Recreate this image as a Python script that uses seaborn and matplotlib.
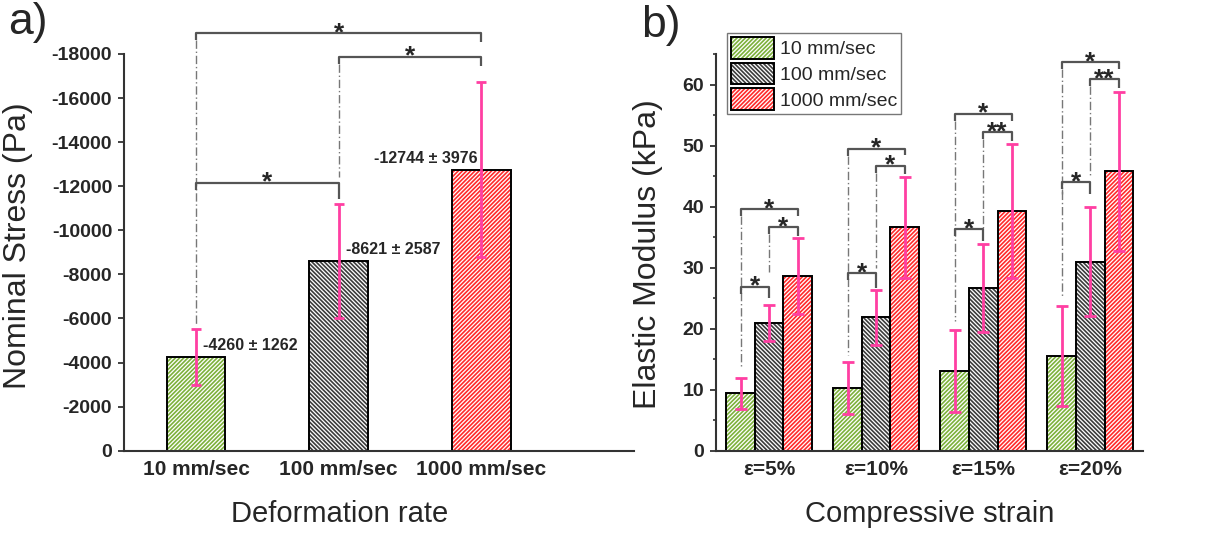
import matplotlib
matplotlib.use('Agg')
import matplotlib.pyplot as plt
from matplotlib.patches import Rectangle, Patch
from matplotlib.legend_handler import HandlerTuple
from matplotlib.ticker import MultipleLocator
import seaborn as sns
import pandas as pd

# ---- data ----
rates = ['10 mm/sec', '100 mm/sec', '1000 mm/sec']
stress = [-4260, -8621, -12744]
stress_sd = [1262, 2587, 3976]

strains = ['ε=5%', 'ε=10%', 'ε=15%', 'ε=20%']
mod_10 = [9.4, 10.3, 13.1, 15.5]
mod_100 = [20.9, 21.9, 26.7, 31.0]
mod_1000 = [28.6, 36.6, 39.3, 45.8]
sd_10 = [2.5, 4.3, 6.7, 8.2]
sd_100 = [3.0, 4.5, 7.2, 9.0]
sd_1000 = [6.2, 8.3, 11.0, 13.0]

# significance brackets: (bar i, bar j, height, left line end, right tick end, label)
brackets_a = [
    (0, 2, -18940, -5650, -18560, '*'),
    (1, 2, -17880, -12400, -17450, '*'),
    (0, 1, -12160, -11850, -11400, '*'),
]
# panel b bars indexed as (rate, strain)
brackets_b = [
    ((0, 0), (2, 0), 39.6, 13.8, 38.5, '*'),
    ((1, 0), (2, 0), 36.6, 29.2, 35.2, '*'),
    ((0, 0), (1, 0), 26.9, 25.7, 25.0, '*'),
    ((0, 1), (2, 1), 49.5, 15.7, 48.4, '*'),
    ((1, 1), (2, 1), 46.7, 30.0, 45.3, '*'),
    ((0, 1), (1, 1), 29.1, 27.9, 26.7, '*'),
    ((0, 2), (2, 2), 55.2, 21.2, 54.1, '*'),
    ((1, 2), (2, 2), 52.2, 36.4, 50.7, '**'),
    ((0, 2), (1, 2), 36.3, 35.1, 34.3, '*'),
    ((0, 3), (2, 3), 63.7, 25.0, 62.6, '*'),
    ((1, 3), (2, 3), 60.9, 45.1, 59.4, '**'),
    ((0, 3), (1, 3), 44.0, 42.0, 42.0, '*'),
]

colors = ['#7db13c', '#3c3c3c', '#ff2b2b']
hatches = ['////////', '\\\\\\\\\\\\\\\\', '////////']
err_color = '#ff3fa2'

sns.set_style('ticks')
plt.rcParams['font.family'] = ['Liberation Sans', 'DejaVu Sans']
plt.rcParams['axes.unicode_minus'] = False
plt.rcParams['hatch.linewidth'] = 1.2


def hatch_bars(ax):
    rgba = [matplotlib.colors.to_rgba(c) for c in colors]
    for p in list(ax.patches):
        fc = tuple(p.get_facecolor())
        p.set_facecolor('white')
        p.set_edgecolor(fc)
        p.set_linewidth(0)
        p.set_hatch(hatches[rgba.index(fc)])
        ax.add_patch(Rectangle(p.get_xy(), p.get_width(), p.get_height(),
                               fill=False, edgecolor='black', linewidth=1.4, zorder=p.get_zorder() + 0.1))


def draw_bracket(ax, x1, x2, h, left_end, right_end, label, tick):
    kw = dict(color='#555555', lw=1.6, clip_on=False, solid_capstyle='butt', zorder=5)
    ax.plot([x1, x1, x2, x2], [h - tick, h, h, right_end], **kw)
    ax.plot([x1, x1], [h - tick, left_end], color='#777777', lw=1.0, clip_on=False,
            dashes=(6, 2, 1, 2), zorder=4)
    ax.annotate(label, xy=((x1 + x2) / 2, h), xytext=(0, -5), textcoords='offset points',
                ha='center', va='baseline', fontsize=19, fontweight='bold', annotation_clip=False)


def style_axis(ax):
    for s in ['top', 'right']:
        ax.spines[s].set_visible(False)
    for s in ['left', 'bottom']:
        ax.spines[s].set_linewidth(1.5)
        ax.spines[s].set_color('#333333')
    ax.tick_params(axis='y', which='major', direction='out', length=4.5, width=1.3,
                   labelsize=14, pad=4, color='#333333')
    ax.tick_params(axis='x', length=0, labelsize=15, pad=7)
    for t in ax.get_xticklabels() + ax.get_yticklabels():
        t.set_fontweight('bold')


fig = plt.figure(figsize=(12.2, 5.37), dpi=100)
bottom = 1 - 450.7 / 537
height = (450.7 - 54) / 537
ax_a = fig.add_axes([124 / 1220, bottom, (634 - 124) / 1220, height])
ax_b = fig.add_axes([715.7 / 1220, bottom, (1142.7 - 715.7) / 1220, height])

# ---- panel a ----
df_a = pd.DataFrame({'rate': rates, 'stress': stress})
sns.barplot(data=df_a, x='rate', y='stress', hue='rate', palette=colors, width=0.41,
            saturation=1, errorbar=None, legend=False, ax=ax_a)
hatch_bars(ax_a)
xa = [p.get_x() + p.get_width() / 2 for p in ax_a.patches[:len(rates)]]
ax_a.errorbar(xa, stress, yerr=stress_sd, fmt='none', ecolor=err_color, elinewidth=2,
              capsize=3.5, capthick=2, zorder=6)
ax_a.set_ylim(0, -18000)
ax_a.set_xlim(-0.505, 3.07)
ax_a.yaxis.set_major_locator(MultipleLocator(2000))
for i, (v, sd) in enumerate(zip(stress, stress_sd)):
    right = i == len(stress) - 1
    ax_a.annotate(f'{v} ± {sd}', xy=(xa[i], v), xytext=(-3 if right else 5, 8),
                  textcoords='offset points', ha='right' if right else 'left', va='center',
                  fontsize=11.5, fontweight='bold', zorder=7)
for i, j, h, le, re, lab in brackets_a:
    draw_bracket(ax_a, xa[i], xa[j], h, le, re, lab, -320)
ax_a.set_xlabel('Deformation rate', fontsize=21)
ax_a.set_ylabel('Nominal Stress (Pa)', fontsize=23)
style_axis(ax_a)
ax_a.xaxis.set_label_coords(0.4225, -0.125)
ax_a.yaxis.set_label_coords(-0.178, 0.518)

# ---- panel b ----
mods = [mod_10, mod_100, mod_1000]
sds = [sd_10, sd_100, sd_1000]
df_b = pd.DataFrame({
    'strain': strains * 3,
    'rate': [r for r in rates for _ in strains],
    'modulus': mod_10 + mod_100 + mod_1000,
})
sns.barplot(data=df_b, x='strain', y='modulus', hue='rate', palette=colors, width=0.8,
            saturation=1, errorbar=None, legend=False, ax=ax_b)
bars_b = list(ax_b.patches)
hatch_bars(ax_b)
xb = [[p.get_x() + p.get_width() / 2 for p in bars_b[r * 4:(r + 1) * 4]] for r in range(3)]
for r in range(3):
    ax_b.errorbar(xb[r], mods[r], yerr=sds[r], fmt='none', ecolor=err_color, elinewidth=2,
                  capsize=4, capthick=2, zorder=6)
for (r1, c1), (r2, c2), h, le, re, lab in brackets_b:
    draw_bracket(ax_b, xb[r1][c1], xb[r2][c2], h, le, re, lab, 1.15)
ax_b.set_ylim(0, 65)
ax_b.set_xlim(-0.5, 3.49)
ax_b.yaxis.set_major_locator(MultipleLocator(10))
ax_b.yaxis.set_minor_locator(MultipleLocator(5))
ax_b.set_xlabel('Compressive strain', fontsize=21)
ax_b.set_ylabel('Elastic Modulus (kPa)', fontsize=23)
style_axis(ax_b)
ax_b.tick_params(axis='y', which='minor', direction='out', length=2.5, width=1.2, color='#333333')
ax_b.xaxis.set_label_coords(0.5, -0.125)
ax_b.yaxis.set_label_coords(-0.124, 0.495)

handles = [(Patch(facecolor='white', edgecolor=c, hatch=hh, linewidth=0),
            Patch(fill=False, edgecolor='black', linewidth=1.4)) for c, hh in zip(colors, hatches)]
leg = ax_b.legend(handles, rates, handler_map={tuple: HandlerTuple(ndivide=1, pad=0)},
                  loc='upper left', bbox_to_anchor=(727 / 1220, 1 - 33 / 537),
                  bbox_transform=fig.transFigure, borderaxespad=0, fontsize=14,
                  handlelength=2.2, handleheight=1.35, labelspacing=0.2, handletextpad=0.3,
                  borderpad=0.2, fancybox=False, framealpha=1, edgecolor='#777777')
leg.get_frame().set_linewidth(1.0)

fig.text(8 / 1220, 1 - 2 / 537, 'a)', fontsize=32, va='top', ha='left')
fig.text(641 / 1220, 1 - 5 / 537, 'b)', fontsize=32, va='top', ha='left')

fig.savefig('out.png', dpi=100)
